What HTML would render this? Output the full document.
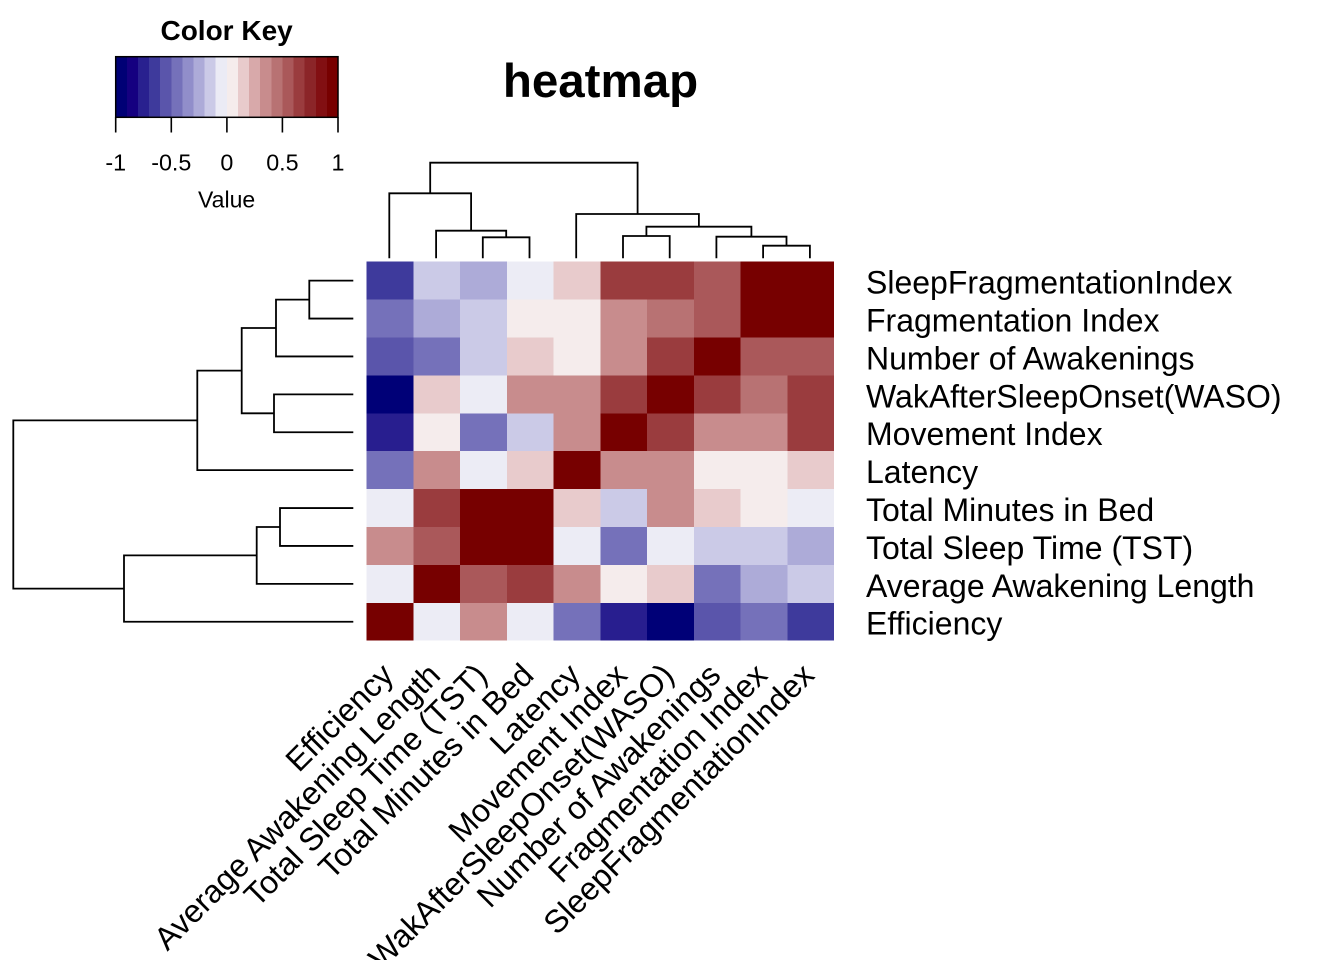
<!DOCTYPE html>
<html>
<head>
<meta charset="utf-8">
<style>
html,body{margin:0;padding:0;background:#fff;}
svg{display:block;}
text{font-family:"Liberation Sans",Arial,sans-serif;fill:#000;}
</style>
</head>
<body>
<svg width="1344" height="960" viewBox="0 0 1344 960" xmlns="http://www.w3.org/2000/svg">
<rect width="1344" height="960" fill="#fff"/>

<!-- Color key -->
<g shape-rendering="crispEdges">
<rect x="115.7" y="56.7" width="11.6" height="60.6" fill="#000075"/>
<rect x="126.8" y="56.7" width="11.6" height="60.6" fill="#150080"/>
<rect x="137.9" y="56.7" width="11.6" height="60.6" fill="#29208F"/>
<rect x="149.0" y="56.7" width="11.6" height="60.6" fill="#3E3A9C"/>
<rect x="160.2" y="56.7" width="11.6" height="60.6" fill="#5A55AB"/>
<rect x="171.3" y="56.7" width="11.6" height="60.6" fill="#7571BA"/>
<rect x="182.4" y="56.7" width="11.6" height="60.6" fill="#918ECA"/>
<rect x="193.5" y="56.7" width="11.6" height="60.6" fill="#ADABD8"/>
<rect x="204.6" y="56.7" width="11.6" height="60.6" fill="#CBCAE7"/>
<rect x="215.7" y="56.7" width="11.6" height="60.6" fill="#EBEBF5"/>
<rect x="226.9" y="56.7" width="11.6" height="60.6" fill="#F5ECEC"/>
<rect x="238.0" y="56.7" width="11.6" height="60.6" fill="#E8CBCC"/>
<rect x="249.1" y="56.7" width="11.6" height="60.6" fill="#D8A9AA"/>
<rect x="260.2" y="56.7" width="11.6" height="60.6" fill="#C88C8D"/>
<rect x="271.3" y="56.7" width="11.6" height="60.6" fill="#B87273"/>
<rect x="282.4" y="56.7" width="11.6" height="60.6" fill="#AA585A"/>
<rect x="293.6" y="56.7" width="11.6" height="60.6" fill="#9A3C3E"/>
<rect x="304.7" y="56.7" width="11.6" height="60.6" fill="#8B2528"/>
<rect x="315.8" y="56.7" width="11.6" height="60.6" fill="#820F12"/>
<rect x="326.9" y="56.7" width="11.1" height="60.6" fill="#770000"/>
</g>
<rect x="115.7" y="56.7" width="222.3" height="60.6" fill="none" stroke="#000" stroke-width="1.5"/>
<g stroke="#000" stroke-width="1.6">
<line x1="115.7" y1="117.3" x2="115.7" y2="132.5"/>
<line x1="171.3" y1="117.3" x2="171.3" y2="132.5"/>
<line x1="226.9" y1="117.3" x2="226.9" y2="132.5"/>
<line x1="282.4" y1="117.3" x2="282.4" y2="132.5"/>
<line x1="338" y1="117.3" x2="338" y2="132.5"/>
</g>
<g font-size="23.3" text-anchor="middle">
<text x="115.7" y="170.7">-1</text>
<text x="171.3" y="170.7">-0.5</text>
<text x="226.9" y="170.7">0</text>
<text x="282.4" y="170.7">0.5</text>
<text x="338" y="170.7">1</text>
</g>
<text x="226.6" y="207.5" font-size="23" text-anchor="middle">Value</text>
<text x="226.6" y="40" font-size="28" font-weight="bold" text-anchor="middle">Color Key</text>

<!-- Title -->
<text x="600.5" y="97" font-size="47.5" font-weight="bold" text-anchor="middle">heatmap</text>

<!-- Heatmap cells -->
<g shape-rendering="crispEdges">
<!-- row 1 -->
<rect x="366.7" y="261.7" width="47.3" height="38.4" fill="#3E3A9C"/>
<rect x="413.4" y="261.7" width="47.3" height="38.4" fill="#CBCAE7"/>
<rect x="460.2" y="261.7" width="47.3" height="38.4" fill="#ADABD8"/>
<rect x="506.9" y="261.7" width="47.3" height="38.4" fill="#ECECF5"/>
<rect x="553.6" y="261.7" width="47.3" height="38.4" fill="#E8CBCC"/>
<rect x="600.3" y="261.7" width="47.3" height="38.4" fill="#9A3C3E"/>
<rect x="647.1" y="261.7" width="47.3" height="38.4" fill="#9A3C3E"/>
<rect x="693.8" y="261.7" width="47.3" height="38.4" fill="#AA585A"/>
<rect x="740.5" y="261.7" width="47.3" height="38.4" fill="#770000"/>
<rect x="787.3" y="261.7" width="46.7" height="38.4" fill="#770000"/>
<!-- row 2 -->
<rect x="366.7" y="299.6" width="47.3" height="38.4" fill="#7571BA"/>
<rect x="413.4" y="299.6" width="47.3" height="38.4" fill="#ADABD8"/>
<rect x="460.2" y="299.6" width="47.3" height="38.4" fill="#CBCAE7"/>
<rect x="506.9" y="299.6" width="47.3" height="38.4" fill="#F5ECEC"/>
<rect x="553.6" y="299.6" width="47.3" height="38.4" fill="#F5ECEC"/>
<rect x="600.3" y="299.6" width="47.3" height="38.4" fill="#C88C8D"/>
<rect x="647.1" y="299.6" width="47.3" height="38.4" fill="#B87273"/>
<rect x="693.8" y="299.6" width="47.3" height="38.4" fill="#AA585A"/>
<rect x="740.5" y="299.6" width="47.3" height="38.4" fill="#770000"/>
<rect x="787.3" y="299.6" width="46.7" height="38.4" fill="#770000"/>
<!-- row 3 -->
<rect x="366.7" y="337.5" width="47.3" height="38.4" fill="#5A55AB"/>
<rect x="413.4" y="337.5" width="47.3" height="38.4" fill="#7571BA"/>
<rect x="460.2" y="337.5" width="47.3" height="38.4" fill="#CBCAE7"/>
<rect x="506.9" y="337.5" width="47.3" height="38.4" fill="#E8CBCC"/>
<rect x="553.6" y="337.5" width="47.3" height="38.4" fill="#F5ECEC"/>
<rect x="600.3" y="337.5" width="47.3" height="38.4" fill="#C88C8D"/>
<rect x="647.1" y="337.5" width="47.3" height="38.4" fill="#9A3C3E"/>
<rect x="693.8" y="337.5" width="47.3" height="38.4" fill="#770000"/>
<rect x="740.5" y="337.5" width="47.3" height="38.4" fill="#AA585A"/>
<rect x="787.3" y="337.5" width="46.7" height="38.4" fill="#AA585A"/>
<!-- row 4 -->
<rect x="366.7" y="375.4" width="47.3" height="38.4" fill="#000077"/>
<rect x="413.4" y="375.4" width="47.3" height="38.4" fill="#E8CBCC"/>
<rect x="460.2" y="375.4" width="47.3" height="38.4" fill="#ECECF5"/>
<rect x="506.9" y="375.4" width="47.3" height="38.4" fill="#C88C8D"/>
<rect x="553.6" y="375.4" width="47.3" height="38.4" fill="#C88C8D"/>
<rect x="600.3" y="375.4" width="47.3" height="38.4" fill="#9A3C3E"/>
<rect x="647.1" y="375.4" width="47.3" height="38.4" fill="#770000"/>
<rect x="693.8" y="375.4" width="47.3" height="38.4" fill="#9A3C3E"/>
<rect x="740.5" y="375.4" width="47.3" height="38.4" fill="#B87273"/>
<rect x="787.3" y="375.4" width="46.7" height="38.4" fill="#9A3C3E"/>
<!-- row 5 -->
<rect x="366.7" y="413.3" width="47.3" height="38.4" fill="#281E8F"/>
<rect x="413.4" y="413.3" width="47.3" height="38.4" fill="#F5ECEC"/>
<rect x="460.2" y="413.3" width="47.3" height="38.4" fill="#7571BA"/>
<rect x="506.9" y="413.3" width="47.3" height="38.4" fill="#CBCAE7"/>
<rect x="553.6" y="413.3" width="47.3" height="38.4" fill="#C88C8D"/>
<rect x="600.3" y="413.3" width="47.3" height="38.4" fill="#770000"/>
<rect x="647.1" y="413.3" width="47.3" height="38.4" fill="#9A3C3E"/>
<rect x="693.8" y="413.3" width="47.3" height="38.4" fill="#C88C8D"/>
<rect x="740.5" y="413.3" width="47.3" height="38.4" fill="#C88C8D"/>
<rect x="787.3" y="413.3" width="46.7" height="38.4" fill="#9A3C3E"/>
<!-- row 6 -->
<rect x="366.7" y="451.2" width="47.3" height="38.4" fill="#7571BA"/>
<rect x="413.4" y="451.2" width="47.3" height="38.4" fill="#C88C8D"/>
<rect x="460.2" y="451.2" width="47.3" height="38.4" fill="#ECECF5"/>
<rect x="506.9" y="451.2" width="47.3" height="38.4" fill="#E8CBCC"/>
<rect x="553.6" y="451.2" width="47.3" height="38.4" fill="#770000"/>
<rect x="600.3" y="451.2" width="47.3" height="38.4" fill="#C88C8D"/>
<rect x="647.1" y="451.2" width="47.3" height="38.4" fill="#C88C8D"/>
<rect x="693.8" y="451.2" width="47.3" height="38.4" fill="#F5ECEC"/>
<rect x="740.5" y="451.2" width="47.3" height="38.4" fill="#F5ECEC"/>
<rect x="787.3" y="451.2" width="46.7" height="38.4" fill="#E8CBCC"/>
<!-- row 7 -->
<rect x="366.7" y="489.1" width="47.3" height="38.4" fill="#ECECF5"/>
<rect x="413.4" y="489.1" width="47.3" height="38.4" fill="#9A3C3E"/>
<rect x="460.2" y="489.1" width="47.3" height="38.4" fill="#770000"/>
<rect x="506.9" y="489.1" width="47.3" height="38.4" fill="#770000"/>
<rect x="553.6" y="489.1" width="47.3" height="38.4" fill="#E8CBCC"/>
<rect x="600.3" y="489.1" width="47.3" height="38.4" fill="#CBCAE7"/>
<rect x="647.1" y="489.1" width="47.3" height="38.4" fill="#C88C8D"/>
<rect x="693.8" y="489.1" width="47.3" height="38.4" fill="#E8CBCC"/>
<rect x="740.5" y="489.1" width="47.3" height="38.4" fill="#F5ECEC"/>
<rect x="787.3" y="489.1" width="46.7" height="38.4" fill="#ECECF5"/>
<!-- row 8 -->
<rect x="366.7" y="527.0" width="47.3" height="38.4" fill="#C88C8D"/>
<rect x="413.4" y="527.0" width="47.3" height="38.4" fill="#AA585A"/>
<rect x="460.2" y="527.0" width="47.3" height="38.4" fill="#770000"/>
<rect x="506.9" y="527.0" width="47.3" height="38.4" fill="#770000"/>
<rect x="553.6" y="527.0" width="47.3" height="38.4" fill="#ECECF5"/>
<rect x="600.3" y="527.0" width="47.3" height="38.4" fill="#7571BA"/>
<rect x="647.1" y="527.0" width="47.3" height="38.4" fill="#ECECF5"/>
<rect x="693.8" y="527.0" width="47.3" height="38.4" fill="#CBCAE7"/>
<rect x="740.5" y="527.0" width="47.3" height="38.4" fill="#CBCAE7"/>
<rect x="787.3" y="527.0" width="46.7" height="38.4" fill="#ADABD8"/>
<!-- row 9 -->
<rect x="366.7" y="564.9" width="47.3" height="38.4" fill="#ECECF5"/>
<rect x="413.4" y="564.9" width="47.3" height="38.4" fill="#770000"/>
<rect x="460.2" y="564.9" width="47.3" height="38.4" fill="#AA585A"/>
<rect x="506.9" y="564.9" width="47.3" height="38.4" fill="#9A3C3E"/>
<rect x="553.6" y="564.9" width="47.3" height="38.4" fill="#C88C8D"/>
<rect x="600.3" y="564.9" width="47.3" height="38.4" fill="#F5ECEC"/>
<rect x="647.1" y="564.9" width="47.3" height="38.4" fill="#E8CBCC"/>
<rect x="693.8" y="564.9" width="47.3" height="38.4" fill="#7571BA"/>
<rect x="740.5" y="564.9" width="47.3" height="38.4" fill="#ADABD8"/>
<rect x="787.3" y="564.9" width="46.7" height="38.4" fill="#CBCAE7"/>
<!-- row 10 -->
<rect x="366.7" y="602.8" width="47.3" height="37.9" fill="#770000"/>
<rect x="413.4" y="602.8" width="47.3" height="37.9" fill="#ECECF5"/>
<rect x="460.2" y="602.8" width="47.3" height="37.9" fill="#C88C8D"/>
<rect x="506.9" y="602.8" width="47.3" height="37.9" fill="#ECECF5"/>
<rect x="553.6" y="602.8" width="47.3" height="37.9" fill="#7571BA"/>
<rect x="600.3" y="602.8" width="47.3" height="37.9" fill="#281E8F"/>
<rect x="647.1" y="602.8" width="47.3" height="37.9" fill="#000077"/>
<rect x="693.8" y="602.8" width="47.3" height="37.9" fill="#5A55AB"/>
<rect x="740.5" y="602.8" width="47.3" height="37.9" fill="#7571BA"/>
<rect x="787.3" y="602.8" width="46.7" height="37.9" fill="#3E3A9C"/>
</g>

<!-- Column dendrogram -->
<g fill="none" stroke="#000" stroke-width="1.8">
<path d="M482.8,258.3 V237.3 H529.5 V258.3"/>
<path d="M436.1,258.3 V230.7 H506.2 V237.3"/>
<path d="M389.3,258.3 V193.3 H471.1 V230.7"/>
<path d="M623,258.3 V236 H669.7 V258.3"/>
<path d="M763.1,258.3 V245.7 H809.9 V258.3"/>
<path d="M716.4,258.3 V236.7 H786.5 V245.7"/>
<path d="M646.4,236 V226.7 H751.4 V236.7"/>
<path d="M576.2,258.3 V214 H698.9 V226.7"/>
<path d="M430.2,193.3 V162.7 H637.6 V214"/>
</g>

<!-- Row dendrogram -->
<g fill="none" stroke="#000" stroke-width="1.8">
<path d="M353.3,280.65 H309.3 V318.55 H353.3"/>
<path d="M309.3,299.6 H276 V356.45 H353.3"/>
<path d="M353.3,394.35 H274 V432.25 H353.3"/>
<path d="M276,328 H241.7 V413.3 H274"/>
<path d="M241.7,370.65 H197.3 V470.15 H353.3"/>
<path d="M353.3,508.05 H280 V545.95 H353.3"/>
<path d="M280,527 H256.7 V583.85 H353.3"/>
<path d="M256.7,555.4 H124 V621.75 H353.3"/>
<path d="M197.3,420.4 H13.3 V588.6 H124"/>
</g>

<!-- Row labels -->
<g font-size="32">
<text x="866" y="293.6">SleepFragmentationIndex</text>
<text x="866" y="331.5">Fragmentation Index</text>
<text x="866" y="369.4">Number of Awakenings</text>
<text x="866" y="407.3">WakAfterSleepOnset(WASO)</text>
<text x="866" y="445.2">Movement Index</text>
<text x="866" y="483.1">Latency</text>
<text x="866" y="521">Total Minutes in Bed</text>
<text x="866" y="558.9">Total Sleep Time (TST)</text>
<text x="866" y="596.8">Average Awakening Length</text>
<text x="866" y="634.7">Efficiency</text>
</g>

<!-- Column labels -->
<g font-size="32" text-anchor="end">
<text transform="translate(395.3,677) rotate(-45)">Efficiency</text>
<text transform="translate(442.1,677) rotate(-45)">Average Awakening Length</text>
<text transform="translate(488.8,677) rotate(-45)">Total Sleep Time (TST)</text>
<text transform="translate(535.5,677) rotate(-45)">Total Minutes in Bed</text>
<text transform="translate(582.2,677) rotate(-45)">Latency</text>
<text transform="translate(629,677) rotate(-45)">Movement Index</text>
<text transform="translate(675.7,677) rotate(-45)">WakAfterSleepOnset(WASO)</text>
<text transform="translate(722.4,677) rotate(-45)">Number of Awakenings</text>
<text transform="translate(769.1,677) rotate(-45)">Fragmentation Index</text>
<text transform="translate(815.9,677) rotate(-45)">SleepFragmentationIndex</text>
</g>
</svg>
</body>
</html>
